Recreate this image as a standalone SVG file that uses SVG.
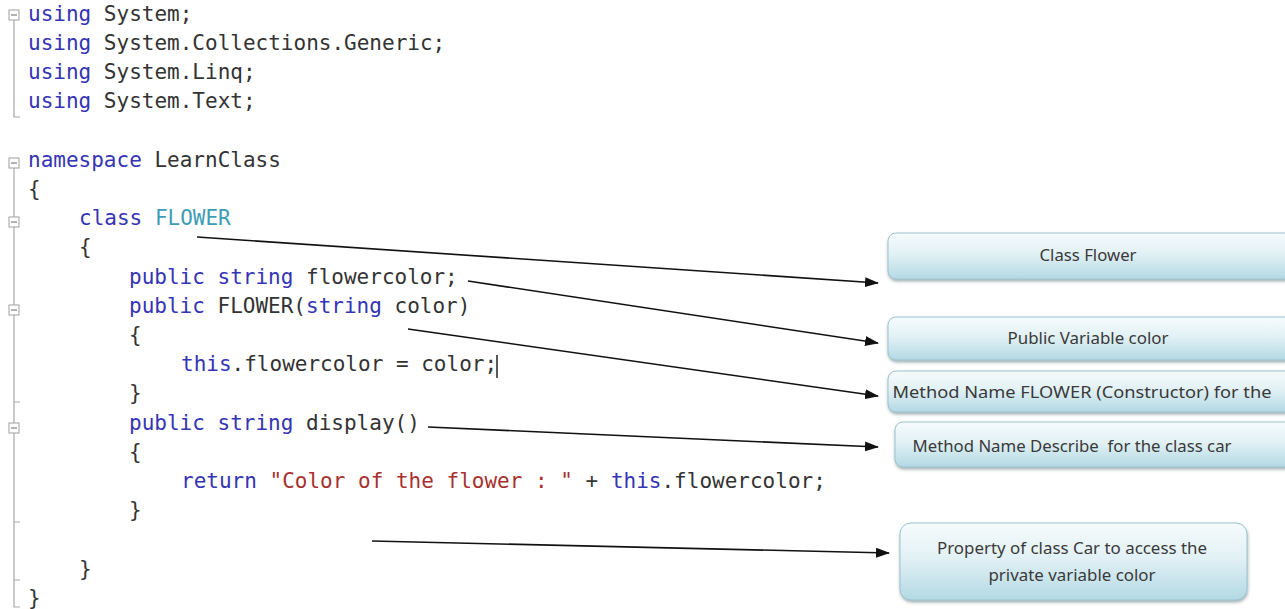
<svg xmlns="http://www.w3.org/2000/svg" width="1285" height="609" viewBox="0 0 1285 609">
  <style>
    .code { font-family: "DejaVu Sans Mono", "Liberation Mono", monospace; font-size: 21px; fill: #333333; }
    .kw { fill: #3434b4; }
    .ty { fill: #3d9db6; }
    .str { fill: #a8302e; }
    .fold { fill: #ffffff; stroke: #a0a0a0; stroke-width: 1; }
    .foldmark { stroke: #808080; stroke-width: 1.2; }
    .guide { stroke: #a8a8a8; stroke-width: 1.2; fill: none; }
    .note { fill: url(#noteFill); stroke: #9cc3cf; stroke-width: 1; filter: url(#noteShadow); }
    .label { font-family: "Noto Sans", "Liberation Sans", sans-serif; font-size: 16px; fill: #3a3a3a; text-anchor: middle; }
    .connector { stroke: #111111; stroke-width: 1.6; fill: none; marker-end: url(#arrow); }
  </style>
  <defs>
    <linearGradient id="noteFill" x1="0" y1="0" x2="0" y2="1">
      <stop offset="0" stop-color="#f6fbfc"/>
      <stop offset="0.45" stop-color="#e2f1f5"/>
      <stop offset="1" stop-color="#b3d9e4"/>
    </linearGradient>
    <filter id="noteShadow" x="-5%" y="-20%" width="110%" height="150%">
      <feDropShadow dx="0.5" dy="2" stdDeviation="1.4" flood-color="#5a6f78" flood-opacity="0.55"/>
    </filter>
    <marker id="arrow" markerUnits="userSpaceOnUse" markerWidth="14" markerHeight="10" refX="13" refY="5" orient="auto">
      <path d="M0,0 L14,5 L0,10 z" fill="#111111"/>
    </marker>
  </defs>

  <rect x="0" y="0" width="1285" height="609" fill="#ffffff"/>

  <!-- outlining margin: fold boxes and guide lines -->
  <g id="outline">
    <path class="guide" d="M14,20 V117 H20"/>
    <path class="guide" d="M14,168 V217 M14,227 V305 M14,315 V402 H20 M14,402 V423 M14,433 V522 H20 M14,522 V580 H20 M14,580 V607 H20"/>
    <rect class="fold" x="9" y="10" width="10" height="10"/>
    <line class="foldmark" x1="11" y1="15" x2="17" y2="15"/>
    <rect class="fold" x="9" y="158" width="10" height="10"/>
    <line class="foldmark" x1="11" y1="163" x2="17" y2="163"/>
    <rect class="fold" x="9" y="217" width="10" height="10"/>
    <line class="foldmark" x1="11" y1="222" x2="17" y2="222"/>
    <rect class="fold" x="9" y="305" width="10" height="10"/>
    <line class="foldmark" x1="11" y1="310" x2="17" y2="310"/>
    <rect class="fold" x="9" y="423" width="10" height="10"/>
    <line class="foldmark" x1="11" y1="428" x2="17" y2="428"/>
  </g>

  <!-- source listing -->
  <g id="code" class="code" xml:space="preserve">
    <text x="28" y="21"><tspan class="kw">using</tspan> System;</text>
    <text x="28" y="50"><tspan class="kw">using</tspan> System.Collections.Generic;</text>
    <text x="28" y="79"><tspan class="kw">using</tspan> System.Linq;</text>
    <text x="28" y="108"><tspan class="kw">using</tspan> System.Text;</text>
    <text x="28" y="167"><tspan class="kw">namespace</tspan> LearnClass</text>
    <text x="28" y="196">{</text>
    <text x="79" y="225"><tspan class="kw">class</tspan> <tspan class="ty">FLOWER</tspan></text>
    <text x="79" y="254">{</text>
    <text x="129" y="284"><tspan class="kw">public</tspan> <tspan class="kw">string</tspan> flowercolor;</text>
    <text x="129" y="313"><tspan class="kw">public</tspan> FLOWER(<tspan class="kw">string</tspan> color)</text>
    <text x="129" y="342">{</text>
    <text x="181" y="371"><tspan class="kw">this</tspan>.flowercolor = color;</text>
    <text x="129" y="400">}</text>
    <text x="129" y="430"><tspan class="kw">public</tspan> <tspan class="kw">string</tspan> display()</text>
    <text x="129" y="459">{</text>
    <text x="181" y="488"><tspan class="kw">return</tspan> <tspan class="str">"Color of the flower : "</tspan> + <tspan class="kw">this</tspan>.flowercolor;</text>
    <text x="129" y="517">}</text>
    <text x="79" y="576">}</text>
    <text x="28" y="605">}</text>
  </g>
  <!-- caret -->
  <line x1="497" y1="355" x2="497" y2="378" stroke="#222222" stroke-width="1.5"/>

  <!-- annotation boxes -->
  <g id="note-class">
    <rect class="note" x="888" y="233" width="420" height="46" rx="8"/>
    <text class="label" x="1088" y="261" textLength="97" lengthAdjust="spacingAndGlyphs">Class Flower</text>
  </g>
  <g id="note-variable">
    <rect class="note" x="888" y="317" width="420" height="43" rx="8"/>
    <text class="label" x="1088" y="344" textLength="161" lengthAdjust="spacingAndGlyphs">Public Variable color</text>
  </g>
  <g id="note-constructor">
    <rect class="note" x="888" y="371" width="420" height="41" rx="8"/>
    <text class="label" x="1082" y="398" textLength="379" lengthAdjust="spacingAndGlyphs">Method Name FLOWER (Constructor) for the</text>
  </g>
  <g id="note-method">
    <rect class="note" x="895" y="422" width="420" height="45" rx="8"/>
    <text class="label" x="1072" y="452" textLength="319" lengthAdjust="spacingAndGlyphs" xml:space="preserve">Method Name Describe  for the class car</text>
  </g>
  <g id="note-property">
    <rect class="note" x="900" y="523" width="347" height="77" rx="11"/>
    <text class="label" x="1072" y="554" textLength="270" lengthAdjust="spacingAndGlyphs">Property of class Car to access the</text>
    <text class="label" x="1072" y="581" textLength="167" lengthAdjust="spacingAndGlyphs">private variable color</text>
  </g>

  <!-- connectors -->
  <g id="connectors">
    <line class="connector" x1="197" y1="237" x2="878" y2="283"/>
    <line class="connector" x1="468" y1="281" x2="878" y2="343"/>
    <line class="connector" x1="408" y1="329" x2="878" y2="396"/>
    <line class="connector" x1="428" y1="427" x2="878" y2="447"/>
    <line class="connector" x1="372" y1="541" x2="889" y2="553"/>
  </g>
</svg>
